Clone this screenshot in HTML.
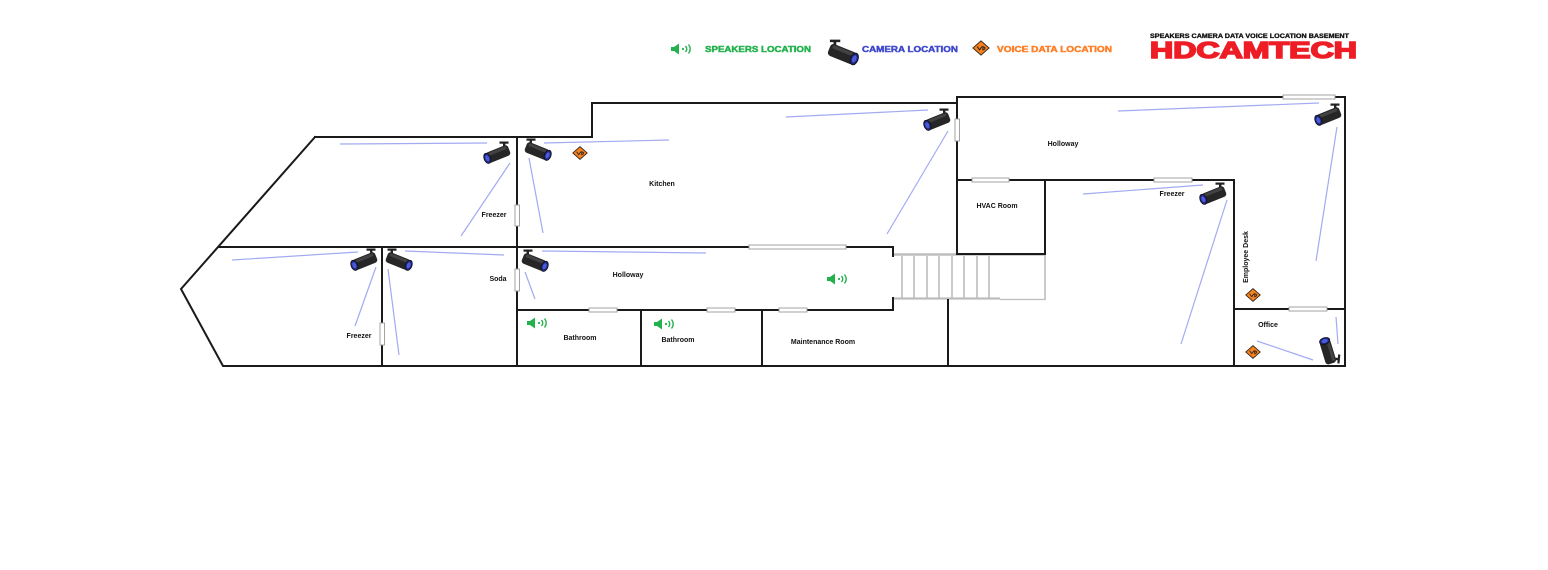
<!DOCTYPE html>
<html><head><meta charset="utf-8"><style>
html,body{margin:0;padding:0;background:#fff;}
svg{display:block;}
.lbl{font-family:"Liberation Sans",sans-serif;font-weight:bold;font-size:7px;fill:#111;}
.leg{font-family:"Liberation Sans",sans-serif;font-weight:bold;font-size:8.5px;stroke-width:0.45;}
.w{stroke:#1a1a1a;stroke-width:2;fill:none;stroke-linecap:square;}
.bl{stroke:#a3aaf2;stroke-width:1.2;}
.door{fill:#fff;stroke:#9a9a9a;stroke-width:0.9;}
.st{stroke:#bdbdbd;fill:none;}
</style></head><body>
<svg width="1548" height="570" viewBox="0 0 1548 570" xmlns="http://www.w3.org/2000/svg">
<defs>
  <g id="cam">
    <rect x="1.5" y="-12.5" width="9" height="2.2" fill="#222"/>
    <rect x="5" y="-11" width="2.4" height="6" fill="#222"/>
    <g transform="rotate(-22)">
      <rect x="-12" y="-5.5" width="24" height="11" rx="3" fill="#262626"/>
      <rect x="-10" y="-4.5" width="20" height="3" rx="1.5" fill="#555" opacity="0.6"/>
      <ellipse cx="-11.5" cy="0" rx="3.3" ry="5.3" fill="#1c2680" stroke="#111" stroke-width="0.8"/>
      <ellipse cx="-11.5" cy="0" rx="1.9" ry="3.2" fill="#4b5ad6"/>
    </g>
  </g>
  <g id="spk">
    <polygon points="-12,-2 -9,-2 -4,-5.5 -4,5.5 -9,2 -12,2" fill="#22b14c"/>
    <circle cx="0" cy="0" r="1.1" fill="#22b14c"/>
    <path d="M2.5,-3 Q5,0 2.5,3" stroke="#22b14c" stroke-width="1.4" fill="none"/>
    <path d="M5.5,-4.5 Q9,0 5.5,4.5" stroke="#22b14c" stroke-width="1.4" fill="none"/>
  </g>
  <g id="vd">
    <polygon points="0,-7.5 8.5,0 0,7.5 -8.5,0" fill="#f5821f" stroke="#3a2a1a" stroke-width="1"/>
    <path d="M-4,-1.5 L-1.5,2 L1,-1.5 M2,-1.5 L2,2 L4,1 L4,-0.5 Z" stroke="#222" stroke-width="1" fill="none"/>
  </g>
</defs>

<!-- Legend -->
<use href="#spk" transform="translate(683,49)"/>
<text class="leg" x="705" y="52" fill="#22b14c" stroke="#22b14c" textLength="106" lengthAdjust="spacingAndGlyphs">SPEAKERS LOCATION</text>
<use href="#cam" transform="translate(842,54) scale(-1.15,1.15)"/>
<text class="leg" x="862" y="52" fill="#3f48cc" stroke="#3f48cc" textLength="96" lengthAdjust="spacingAndGlyphs">CAMERA LOCATION</text>
<use href="#vd" transform="translate(981,48) scale(0.95)"/>
<text class="leg" x="997" y="52" fill="#ff7f27" stroke="#ff7f27" textLength="115" lengthAdjust="spacingAndGlyphs">VOICE DATA LOCATION</text>

<!-- Logo -->
<text x="1150" y="38" font-family="Liberation Sans, sans-serif" font-weight="bold" font-size="6" fill="#111" stroke="#111" stroke-width="0.3" textLength="199" lengthAdjust="spacingAndGlyphs">SPEAKERS CAMERA DATA VOICE LOCATION BASEMENT</text>
<text x="1150" y="58" font-family="Liberation Sans, sans-serif" font-weight="bold" font-size="23" fill="#ee1c24" stroke="#ee1c24" stroke-width="1.6" style="text-transform:uppercase" textLength="207" lengthAdjust="spacingAndGlyphs">HDcamTech</text>

<!-- Stairs -->
<line class="st" x1="894" y1="254.5" x2="1045" y2="254.5" stroke-width="2.6"/>
<line class="st" x1="894" y1="298.5" x2="1000" y2="298.5" stroke-width="2.2"/>
<line class="st" x1="1000" y1="299.5" x2="1045" y2="299.5" stroke-width="1.2"/>
<line class="st" x1="1045" y1="254" x2="1045" y2="300" stroke-width="1.6"/>
<g class="st" stroke-width="1.6">
  <line x1="902" y1="256" x2="902" y2="298"/>
  <line x1="914" y1="256" x2="914" y2="298"/>
  <line x1="927" y1="256" x2="927" y2="298"/>
  <line x1="939" y1="256" x2="939" y2="298"/>
  <line x1="952" y1="256" x2="952" y2="298"/>
  <line x1="964" y1="256" x2="964" y2="298"/>
  <line x1="977" y1="256" x2="977" y2="298"/>
  <line x1="989" y1="256" x2="989" y2="298"/>
</g>

<!-- Walls -->
<path class="w" d="M315,137 L592,137 L592,103 L957,103"/>
<path class="w" d="M957,97 L1345,97 L1345,366 L223,366 L181,289 L315,137"/>
<path class="w" d="M517,137 L517,366"/>
<path class="w" d="M219,247 L893,247 L893,256"/>
<path class="w" d="M893,298 L893,310 L517,310"/>
<path class="w" d="M382,247 L382,366"/>
<path class="w" d="M641,310 L641,366 M762,310 L762,366"/>
<path class="w" d="M948,300 L948,366"/>
<path class="w" d="M957,97 L957,254 L1045,254 L1045,180 M957,180 L1234,180 L1234,366"/>
<path class="w" d="M1234,309 L1345,309"/>

<!-- Doors -->
<rect class="door" x="515" y="205" width="4.5" height="21"/>
<rect class="door" x="515" y="269" width="4.5" height="22"/>
<rect class="door" x="380" y="323" width="4.5" height="22"/>
<rect class="door" x="955" y="119" width="4.5" height="22"/>
<rect class="door" x="749" y="245" width="97" height="4"/>
<rect class="door" x="589" y="308" width="28" height="4"/>
<rect class="door" x="707" y="308" width="28" height="4"/>
<rect class="door" x="779" y="308" width="28" height="4"/>
<rect class="door" x="1283" y="95" width="52" height="4"/>
<rect class="door" x="972" y="178" width="37" height="4"/>
<rect class="door" x="1154" y="178" width="38" height="4"/>
<rect class="door" x="1289" y="307" width="38" height="4"/>

<!-- Camera view lines -->
<g class="bl">
  <line x1="340" y1="144" x2="487" y2="143"/>
  <line x1="510" y1="163" x2="461" y2="236"/>
  <line x1="232" y1="260" x2="358" y2="252"/>
  <line x1="376" y1="267" x2="355" y2="326"/>
  <line x1="388" y1="269" x2="399" y2="355"/>
  <line x1="405" y1="251" x2="504" y2="255"/>
  <line x1="529" y1="158" x2="543" y2="233"/>
  <line x1="544" y1="143" x2="669" y2="140"/>
  <line x1="786" y1="117" x2="928" y2="110"/>
  <line x1="948" y1="131" x2="887" y2="234"/>
  <line x1="542" y1="251" x2="706" y2="253"/>
  <line x1="525" y1="272" x2="535" y2="299"/>
  <line x1="1118" y1="111" x2="1319" y2="103"/>
  <line x1="1337" y1="127" x2="1316" y2="261"/>
  <line x1="1083" y1="194" x2="1203" y2="185"/>
  <line x1="1227" y1="200" x2="1181" y2="344"/>
  <line x1="1257" y1="341" x2="1313" y2="360"/>
  <line x1="1336" y1="317" x2="1338" y2="344"/>
</g>

<!-- Cameras -->
<use href="#cam" transform="translate(498,154)"/>
<use href="#cam" transform="translate(537,151) scale(-1,1)"/>
<use href="#cam" transform="translate(365,261)"/>
<use href="#cam" transform="translate(398,261) scale(-1,1)"/>
<use href="#cam" transform="translate(534,262) scale(-1,1)"/>
<use href="#cam" transform="translate(938,121)"/>
<use href="#cam" transform="translate(1329,116)"/>
<use href="#cam" transform="translate(1214,195)"/>
<use href="#cam" transform="translate(1328,352) rotate(95)"/>

<!-- Speakers -->
<use href="#spk" transform="translate(539,323)"/>
<use href="#spk" transform="translate(666,324)"/>
<use href="#spk" transform="translate(839,279)"/>

<!-- Voice data -->
<use href="#vd" transform="translate(580,153) scale(0.85)"/>
<use href="#vd" transform="translate(1253,295) scale(0.85)"/>
<use href="#vd" transform="translate(1253,352) scale(0.85)"/>

<!-- Labels -->
<g class="lbl" text-anchor="middle">
  <text x="494" y="217">Freezer</text>
  <text x="498" y="281">Soda</text>
  <text x="359" y="338">Freezer</text>
  <text x="662" y="186">Kitchen</text>
  <text x="628" y="277">Holloway</text>
  <text x="580" y="340">Bathroom</text>
  <text x="678" y="342">Bathroom</text>
  <text x="823" y="344">Maintenance Room</text>
  <text x="1063" y="146">Holloway</text>
  <text x="997" y="208">HVAC Room</text>
  <text x="1172" y="196">Freezer</text>
  <text x="1268" y="327">Office</text>
  <text x="0" y="0" transform="translate(1248,257) rotate(-90)">Employee Desk</text>
</g>
</svg>
</body></html>
